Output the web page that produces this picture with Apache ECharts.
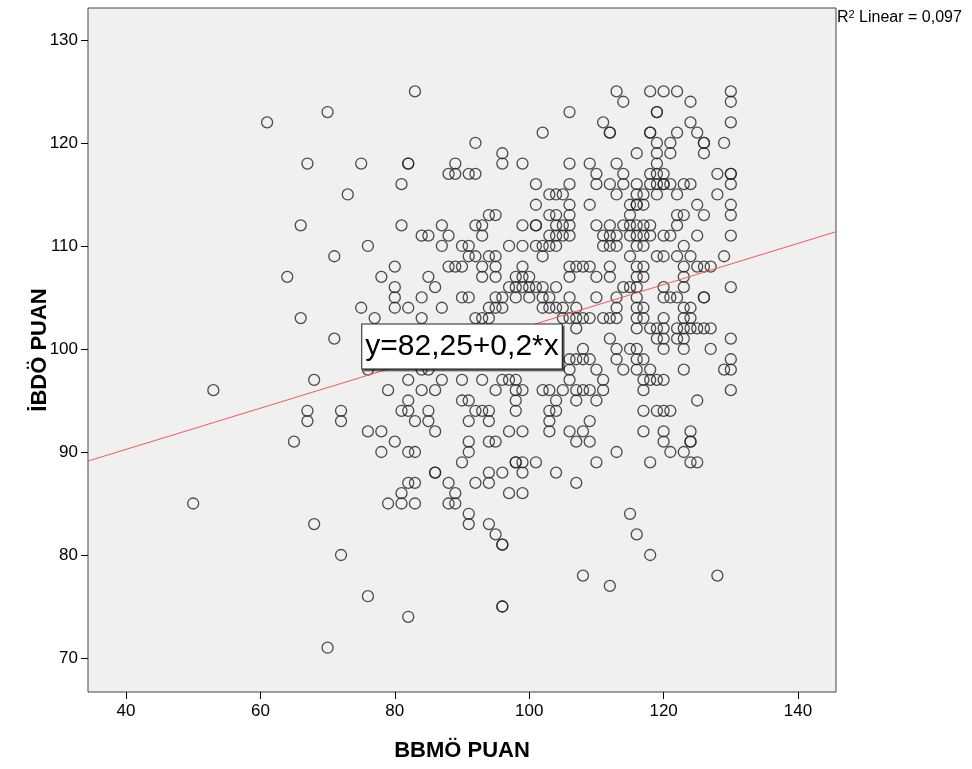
<!DOCTYPE html>
<html>
<head>
<meta charset="utf-8">
<script src="https://cdn.jsdelivr.net/npm/echarts@6/dist/echarts.min.js"></script>
<style>
  html, body { margin: 0; padding: 0; background: #fff; }
  #chart { width: 972px; height: 769px; }
</style>
</head>
<body>
<div id="chart"></div>
<script>
// BBMÖ PUAN (x) and İBDÖ PUAN (y) scores, one entry per respondent
const bbmoPuan = [
  50,53,61,64,65,66,66,67,67,67,68,68,70,70,71,71,72,72,72,73,75,75,76,76,76,76,77,78,78,78,79,79,
  83,92,82,82,89,88,89,91,92,81,81,84,85,87,88,87,92,93,93,94,95,90,91,91,92,94,95,
  80,85,86,80,80,80,88,89,90,93,95,93,95,84,90,91,95,82,87,94,95,84,92,93,94,84,85,82,87,90,93,84,86,95,82,90,91,81,82,85,92,93,94,83,85,91,94,86,
  80,82,83,91,91,94,95,90,86,86,82,83,88,92,94,94,81,89,81,83,88,89,91,91,94,95,96,82,96,
  113,114,118,120,119,119,106,111,112,112,102,118,118,119,119,119,116,96,96,99,106,109,113,110,114,118,119,120,
  101,106,110,112,114,116,118,119,120,103,104,105,113,116,117,119,101,106,109,115,116,116,117,103,104,106,115,
  99,101,101,104,105,106,110,112,114,115,116,117,118,103,104,105,106,111,112,113,115,116,117,118,120,
  97,99,101,102,103,104,111,112,113,116,117,102,115,119,120,
  122,130,130,124,130,124,122,125,121,126,126,126,129,121,128,130,130,130,120,121,123,124,122,128,125,130,130,122,123,126,122,121,125,130,123,122,124,129,
  99,106,107,108,109,112,116,117,
  98,99,100,106,110,112,116,117,
  97,98,99,100,101,102,104,114,115,116,120,
  96,98,100,102,103,106,110,113,116,120,
  96,102,103,104,105,107,113,116,117,
  105,106,107,108,109,111,112,113,116,117,120,
  107,116,118,119,120,
  112,119,120,
  108,113,115,116,120,
  106,107,108,109,113,116,117,
  106,110,114,116,118,
  96,97,98,106,111,117,118,119,120,
  98,99,102,103,105,107,108,109,111,117,
  98,104,107,110,
  98,103,104,117,119,120,
  103,109,
  97,99,103,106,108,117,120,
  123,125,126,127,123,123,130,121,122,126,126,123,124,123,124,122,123,124,125,126,127,122,123,130,123,127,130,123,129,130,130,125,121,124,124,
  107,109,120,121,113,98,98,99,101,110,118,96,99,104,107,97,99,115,116,118,96,96,108,112,124,123,124,125,128
];
const ibdoPuan = [
  85,96,122,107,91,112,103,118,94,93,97,83,123,71,109,101,94,93,80,115,118,104,110,98,92,76,103,107,92,90,96,85,
  125,120,118,118,118,117,117,117,117,116,112,111,111,112,111,110,112,112,111,113,113,110,110,109,109,109,109,
  108,107,106,106,105,104,108,108,108,108,108,107,107,105,105,105,105,104,104,104,104,103,103,103,103,98,98,97,97,97,97,96,96,96,95,95,95,94,94,94,94,94,94,93,93,93,93,92,
  91,90,90,91,90,91,91,89,88,88,87,87,87,87,87,88,86,86,85,85,85,85,84,83,83,82,81,74,75,
  125,124,125,125,123,123,123,122,121,121,121,121,121,120,119,118,119,119,118,118,118,118,118,117,117,117,117,117,
  116,116,116,116,116,116,116,116,116,115,115,115,115,115,115,115,114,114,114,114,114,114,114,113,113,113,113,
  112,112,112,112,112,112,112,112,112,112,112,112,112,111,111,111,111,111,111,111,111,111,111,111,111,
  110,110,110,110,110,110,110,110,110,110,110,109,109,109,109,
  125,125,124,124,122,122,121,121,120,120,120,119,120,119,117,117,117,116,116,116,116,116,115,115,114,114,113,113,113,113,112,111,111,111,110,109,109,109,
  108,108,108,108,108,108,108,108,
  107,107,107,107,107,107,107,107,
  106,106,106,106,106,106,106,106,106,106,106,
  105,105,105,105,105,105,105,105,105,105,
  104,104,104,104,104,104,104,104,104,
  103,103,103,103,103,103,103,103,103,103,103,
  102,102,102,102,102,
  101,101,101,
  100,100,100,100,100,
  99,99,99,99,99,99,99,
  98,98,98,98,98,
  97,97,97,97,97,97,97,97,97,
  96,96,96,96,96,96,96,96,96,96,
  95,95,95,95,
  94,94,94,94,94,94,
  93,93,
  92,92,92,92,92,92,92,
  108,108,108,108,107,106,106,105,105,105,105,104,104,103,103,102,102,102,102,102,102,101,101,101,100,100,99,98,98,98,96,95,94,92,91,
  91,91,91,90,90,89,89,89,89,89,89,88,88,88,87,86,86,84,82,80,81,75,78,77,91,90,89,89,78
];

// Linear fit reported on the chart
const intercept = 82.25;
const slope = 0.2;
const rSquared = '0,097';
const labelAtX = 90;

// Axis ranges and tick labels
const xRange = [34.35, 145.65];
const yRange = [66.7, 133.1];
const xTicks = [40, 60, 80, 100, 120, 140];
const yTicks = [70, 80, 90, 100, 110, 120, 130];

const points = bbmoPuan.map((x, i) => [x, ibdoPuan[i]]);
const fitLine = xRange.map(x => [x, intercept + slope * x]);

const FONT = '"Liberation Sans", Arial, sans-serif';

const chart = echarts.init(document.getElementById('chart'), null, { renderer: 'canvas' });
chart.setOption({
  animation: false,
  backgroundColor: '#ffffff',
  grid: {
    left: 88, right: 136, top: 8, bottom: 77,
    show: true,
    backgroundColor: '#f0f0f0',
    borderColor: '#444',
    borderWidth: 1
  },
  xAxis: {
    type: 'value',
    min: xRange[0], max: xRange[1],
    name: 'BBMÖ PUAN',
    nameLocation: 'middle',
    nameGap: 48,
    nameMoveOverlap: false,
    nameTextStyle: { fontFamily: FONT, fontSize: 22, fontWeight: 'bold', color: '#000' },
    axisLine: { show: false },
    splitLine: { show: false },
    axisTick: { show: true, length: 7, customValues: xTicks, lineStyle: { color: '#000' } },
    axisLabel: { customValues: xTicks, fontFamily: FONT, fontSize: 17, color: '#000', margin: 11 }
  },
  yAxis: {
    type: 'value',
    min: yRange[0], max: yRange[1],
    name: 'İBDÖ PUAN',
    nameLocation: 'middle',
    nameGap: 37,
    nameMoveOverlap: false,
    nameRotate: 90,
    nameTextStyle: { fontFamily: FONT, fontSize: 22, fontWeight: 'bold', color: '#000' },
    axisLine: { show: false },
    splitLine: { show: false },
    axisTick: { show: true, length: 7, customValues: yTicks, lineStyle: { color: '#000' } },
    axisLabel: { customValues: yTicks, fontFamily: FONT, fontSize: 17, color: '#000', margin: 10 }
  },
  series: [
    {
      type: 'scatter',
      data: points,
      symbol: 'circle',
      symbolSize: 11,
      itemStyle: { color: 'rgba(0,0,0,0)', borderColor: '#222', borderWidth: 1.3 },
      z: 2
    },
    {
      type: 'line',
      data: fitLine,
      showSymbol: false,
      lineStyle: { color: '#f25a5a', width: 1 },
      z: 3,
      markPoint: {
        symbol: 'circle',
        symbolSize: 1,
        itemStyle: { color: 'rgba(0,0,0,0)' },
        data: [{ coord: [labelAtX, intercept + slope * labelAtX] }],
        label: {
          show: true,
          position: 'inside',
          formatter: 'y=82,25+0,2*x',
          fontFamily: FONT,
          fontSize: 30,
          color: '#000',
          backgroundColor: '#ffffff',
          borderColor: '#222',
          borderWidth: 1,
          padding: [3, 3, 3, 3],
          lineHeight: 38,
          shadowColor: 'rgba(0,0,0,0.45)',
          shadowOffsetX: 2,
          shadowOffsetY: 2,
          shadowBlur: 0
        }
      }
    }
  ],
  graphic: [
    {
      type: 'text',
      left: 837,
      top: 9,
      style: {
        text: '{a|R}{s|2}{a| Linear = ' + rSquared + '}',
        rich: {
          a: { fontFamily: FONT, fontSize: 16, fill: '#000' },
          s: { fontFamily: FONT, fontSize: 11, fill: '#000', verticalAlign: 'top', padding: [0, 0, 7, 0] }
        }
      }
    }
  ]
});
</script>
</body>
</html>
